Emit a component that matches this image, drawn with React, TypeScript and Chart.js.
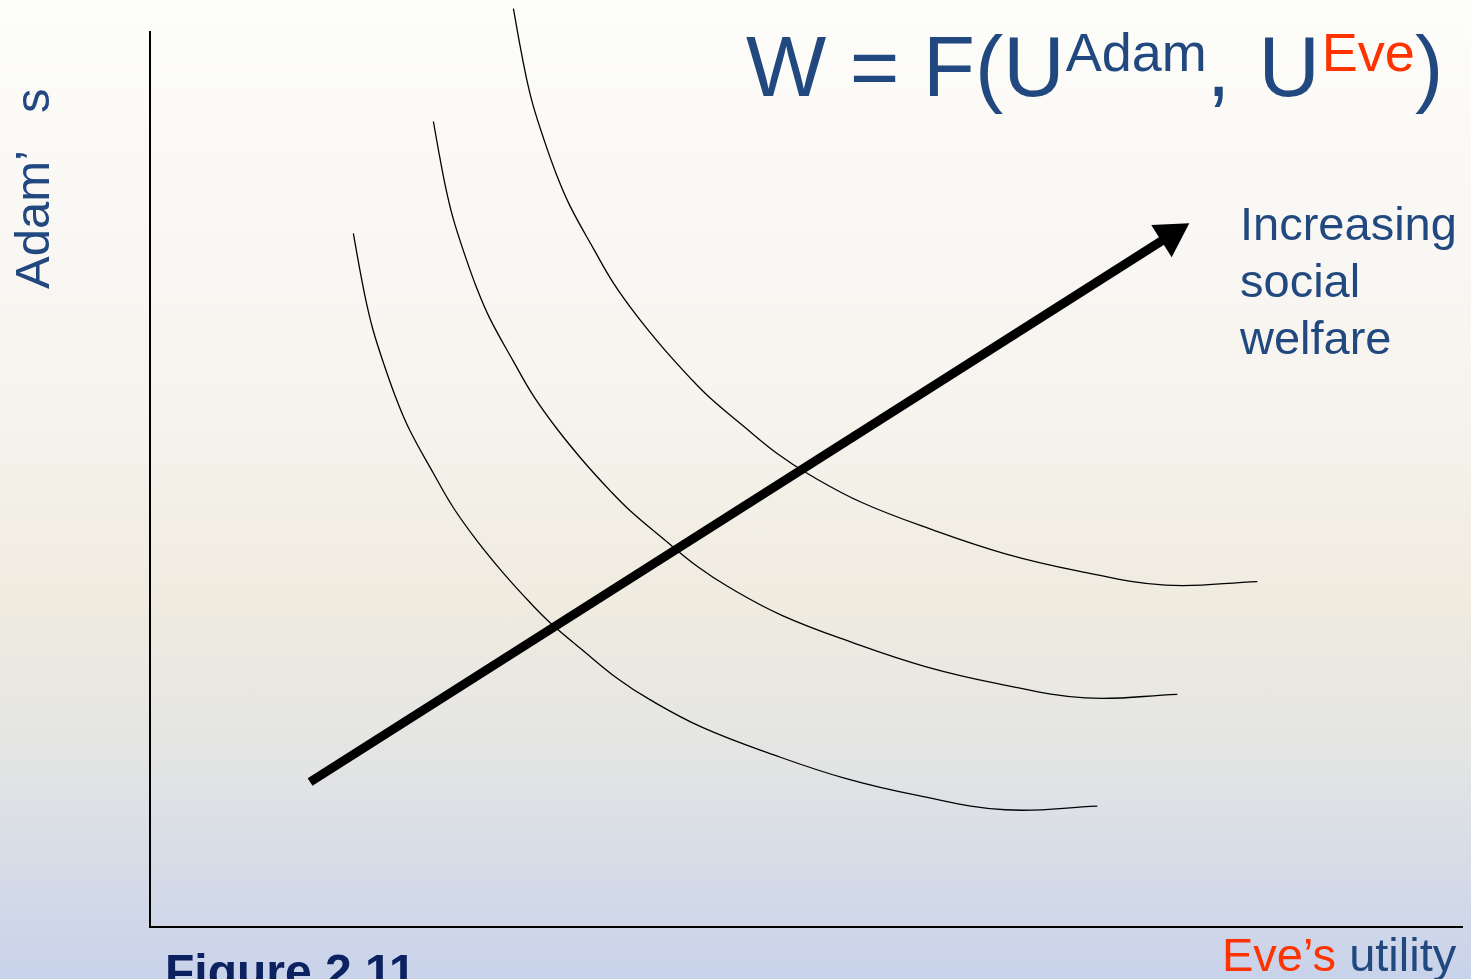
import React, { useEffect, useRef } from "react";
import { Chart, registerables } from "chart.js";

Chart.register(...registerables);

// Axis ranges (utility units)
const xRange = [0, 10];
const yRange = [0, 10];

// Indifference (social welfare) curves
const curve1X = [1.55, 1.6, 1.65, 1.7, 1.78, 1.88, 1.98, 2.16, 2.31, 2.49, 2.69, 2.9, 3.05, 3.3, 3.56, 3.81, 4.21, 4.76, 5.3, 5.85, 6.52, 7.22];
const curve1Y = [7.75, 7.34, 6.97, 6.67, 6.3, 5.89, 5.55, 5.07, 4.69, 4.32, 3.96, 3.62, 3.4, 3.09, 2.78, 2.54, 2.23, 1.92, 1.66, 1.47, 1.31, 1.35];

const curve2X = [2.16, 2.21, 2.26, 2.31, 2.39, 2.49, 2.59, 2.77, 2.92, 3.1, 3.3, 3.51, 3.66, 3.91, 4.17, 4.42, 4.82, 5.37, 5.91, 6.46, 7.13, 7.83];
const curve2Y = [9.0, 8.59, 8.22, 7.92, 7.55, 7.14, 6.8, 6.32, 5.94, 5.57, 5.21, 4.87, 4.65, 4.34, 4.03, 3.79, 3.48, 3.17, 2.91, 2.72, 2.56, 2.6];

const curve3X = [2.77, 2.82, 2.87, 2.92, 3.0, 3.1, 3.2, 3.38, 3.53, 3.71, 3.91, 4.12, 4.27, 4.52, 4.78, 5.03, 5.43, 5.98, 6.52, 7.07, 7.74, 8.44];
const curve3Y = [10.26, 9.85, 9.48, 9.18, 8.81, 8.4, 8.06, 7.58, 7.2, 6.83, 6.47, 6.13, 5.91, 5.6, 5.29, 5.05, 4.74, 4.43, 4.17, 3.98, 3.82, 3.86];

// Arrow of increasing social welfare (tail, head)
const arrowX = [1.22, 7.78];
const arrowY = [1.62, 7.73];

const BLUE = "#21497f";
const RED = "#ff3300";
const NAVY = "#0c2260";
const FONT = '"Liberation Sans", Arial, sans-serif';

export default function App() {
  const ref = useRef<HTMLCanvasElement>(null);

  useEffect(() => {
    document.body.style.margin = "0";
    const pts = (xs: number[], ys: number[]) => xs.map((x, i) => ({ x, y: ys[i] }));
    const curve = (xs: number[], ys: number[]) => ({
      data: pts(xs, ys),
      borderColor: "#000",
      borderWidth: 1.3,
      pointRadius: 0,
      tension: 0.4,
      fill: false,
      clip: false as any,
    });
    const chart = new Chart(ref.current!, {
      type: "line",
      data: {
        datasets: [
          curve(curve1X, curve1Y),
          curve(curve2X, curve2Y),
          curve(curve3X, curve3Y),
          {
            data: pts(arrowX, arrowY),
            borderColor: "#000",
            borderWidth: 9,
            borderCapStyle: "butt",
            tension: 0,
            pointRadius: [0, 22],
            pointStyle: "triangle",
            pointRotation: 57.5,
            pointBackgroundColor: "#000",
            pointBorderColor: "#000",
            pointBorderWidth: 0,
            fill: false,
            clip: false as any,
          } as any,
        ],
      },
      options: {
        responsive: false,
        animation: false,
        events: [],
        layout: { autoPadding: false, padding: { left: 150, top: 32, right: 9, bottom: 52 } },
        plugins: { legend: { display: false }, tooltip: { enabled: false } },
        scales: {
          x: {
            type: "linear",
            min: xRange[0],
            max: xRange[1],
            grid: { display: false, drawTicks: false },
            ticks: { display: false },
            border: { display: true, color: "#000", width: 2 },
          },
          y: {
            type: "linear",
            min: yRange[0],
            max: yRange[1],
            grid: { display: false, drawTicks: false },
            ticks: { display: false },
            border: { display: true, color: "#000", width: 2 },
          },
        },
      },
    } as any);
    return () => chart.destroy();
  }, []);

  return (
    <div
      style={{
        position: "relative",
        width: 1471,
        height: 979,
        overflow: "hidden",
        fontFamily: FONT,
        background:
          "linear-gradient(to bottom, #fdfdfa 0%, #faf8f5 20%, #f7f4ef 40%, #efebdf 62%, #e3e4e4 78%, #c8d2ea 100%)",
      }}
    >
      <canvas
        ref={ref}
        width={1471}
        height={979}
        style={{ position: "absolute", left: 0, top: 0, display: "block" }}
      />
      {/* Title formula */}
      <div
        style={{
          position: "absolute",
          left: 746,
          top: 24,
          fontSize: 85,
          lineHeight: "85px",
          color: BLUE,
          whiteSpace: "pre",
        }}
      >
        W = F(U
        <span style={{ fontSize: 54, position: "relative", top: -25, marginLeft: 1 }}>Adam</span>,
        <span style={{ marginLeft: 28 }}>U</span>
        <span style={{ fontSize: 54, position: "relative", top: -25, color: RED, marginLeft: 2 }}>Eve</span>)
      </div>
      {/* Arrow label */}
      <div
        style={{
          position: "absolute",
          left: 1240,
          top: 195,
          fontSize: 47,
          lineHeight: "57px",
          color: BLUE,
        }}
      >
        Increasing
        <br />
        social
        <br />
        welfare
      </div>
      {/* Y axis label */}
      <div
        style={{
          position: "absolute",
          left: 8,
          top: 289,
          fontSize: 49,
          lineHeight: "49px",
          color: BLUE,
          whiteSpace: "pre",
          transformOrigin: "left top",
          transform: "rotate(-90deg)",
        }}
      >
        Adam’<span style={{ marginLeft: 37 }}>s</span>
      </div>
      {/* X axis label */}
      <div
        style={{
          position: "absolute",
          left: 1222,
          top: 931,
          fontSize: 47,
          lineHeight: "47px",
          color: BLUE,
          whiteSpace: "pre",
        }}
      >
        <span style={{ color: RED }}>Eve’s</span> utility
      </div>
      {/* Figure caption */}
      <div
        style={{
          position: "absolute",
          left: 165,
          top: 948,
          fontSize: 48,
          lineHeight: "48px",
          fontWeight: "bold",
          color: NAVY,
          whiteSpace: "pre",
        }}
      >
        Figure 2.11
      </div>
    </div>
  );
}
